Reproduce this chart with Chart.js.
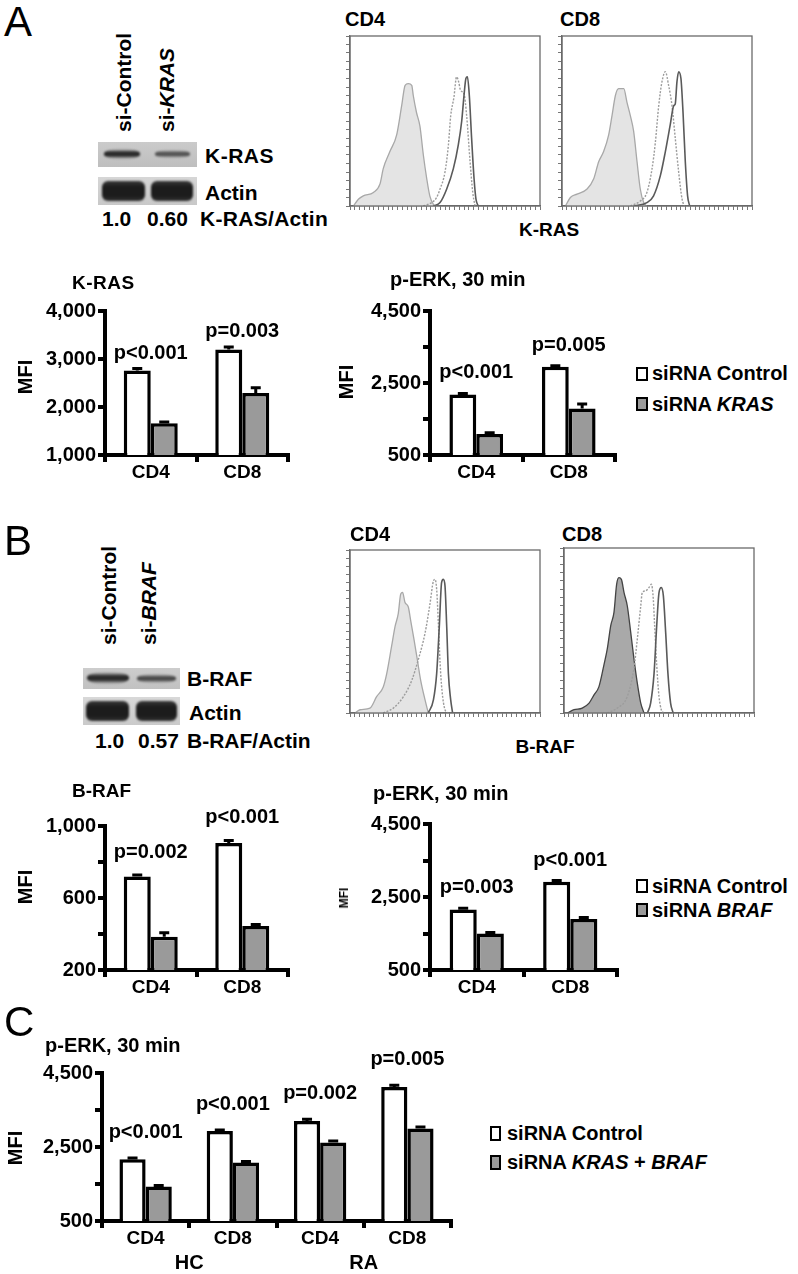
<!DOCTYPE html>
<html>
<head>
<meta charset="utf-8">
<script src="https://cdn.jsdelivr.net/npm/chart.js@4.4.0/dist/chart.umd.min.js"></script>
<style>
body { margin: 0; background: #fff; }
#page { position: relative; width: 798px; height: 1274px; overflow: hidden; font-family: "Liberation Sans", Arial, sans-serif; font-weight: bold; color: #000; }
canvas { position: absolute; }
.t { position: absolute; white-space: nowrap; line-height: 1; z-index: 2; }
.blot { position: absolute; overflow: hidden; }
.band { position: absolute; }
.thin { border-radius: 45%; filter: blur(1px); background: linear-gradient(to bottom, rgba(30,30,30,0), #2a2a2a 35%, #2a2a2a 65%, rgba(30,30,30,0)); }
.thick { border-radius: 6px; filter: blur(1.2px); background: linear-gradient(to bottom, #3a3a3a, #1c1c1c 30%, #1c1c1c 75%, #333); }
.lg { position: absolute; box-sizing: border-box; border: 2.5px solid #000; z-index: 2; }
</style>
</head>
<body>
<div id="page">
  <canvas id="hA4"></canvas>
  <canvas id="hA8"></canvas>
  <canvas id="hB4"></canvas>
  <canvas id="hB8"></canvas>
  <canvas id="barKras"></canvas>
  <canvas id="barPerkA"></canvas>
  <canvas id="barBraf"></canvas>
  <canvas id="barPerkB"></canvas>
  <canvas id="barPerkC"></canvas>

  <!-- western blots, panel A -->
  <div class="blot" style="left:98px;top:142px;width:99px;height:25px;background:linear-gradient(#cbcbcb,#bebebe);">
    <div class="band thin" style="left:6px;top:7px;width:36px;height:10px;"></div>
    <div class="band thin" style="left:57px;top:8px;width:35px;height:8px;opacity:.75;"></div>
  </div>
  <div class="blot" style="left:98px;top:177px;width:99px;height:28px;background:linear-gradient(#d6d6d6,#c8c8c8);">
    <div class="band thick" style="left:4px;top:4px;width:43px;height:20px;"></div>
    <div class="band thick" style="left:53px;top:4px;width:42px;height:20px;"></div>
  </div>
  <!-- western blots, panel B -->
  <div class="blot" style="left:83px;top:668px;width:97px;height:21px;background:linear-gradient(#cdcdcd,#c1c1c1);">
    <div class="band thin" style="left:4px;top:4px;width:42px;height:12px;"></div>
    <div class="band thin" style="left:54px;top:6px;width:39px;height:9px;opacity:.8;"></div>
  </div>
  <div class="blot" style="left:83px;top:697px;width:97px;height:28px;background:linear-gradient(#d8d8d8,#cacaca);">
    <div class="band thick" style="left:3px;top:4px;width:43px;height:20px;"></div>
    <div class="band thick" style="left:53px;top:4px;width:41px;height:20px;"></div>
  </div>

  <!-- legend boxes -->
  <div class="lg" style="left:636px;top:367px;width:12px;height:14px;background:#fff;"></div>
  <div class="lg" style="left:636px;top:397px;width:12px;height:14px;background:#9a9a9a;"></div>
  <div class="lg" style="left:636px;top:879px;width:12px;height:14px;background:#fff;"></div>
  <div class="lg" style="left:636px;top:903px;width:12px;height:14px;background:#9a9a9a;"></div>
  <div class="lg" style="left:490px;top:1126px;width:11px;height:15px;background:#fff;"></div>
  <div class="lg" style="left:490px;top:1155px;width:11px;height:15px;background:#9a9a9a;"></div>
</div>

<script>
// bar chart values (MFI)
const cats2 = ['CD4', 'CD8'];
const krasCtl = [2760, 3200];
const krasKd = [1660, 2290];
const krasCtlErr = [40, 50];
const krasKdErr = [30, 110];
const krasP = ['p<0.001', 'p=0.003'];

const perkACtl = [2180, 2950];
const perkAKd = [1080, 1790];
const perkACtlErr = [30, 30];
const perkAKdErr = [40, 130];
const perkAP = ['p<0.001', 'p=0.005'];

const brafCtl = [720, 905];
const brafKd = [385, 445];
const brafCtlErr = [8, 15];
const brafKdErr = [22, 8];
const brafP = ['p=0.002', 'p<0.001'];

const perkBCtl = [2160, 2920];
const perkBKd = [1500, 1900];
const perkBCtlErr = [30, 30];
const perkBKdErr = [30, 40];
const perkBP = ['p=0.003', 'p<0.001'];

const catsC = ['CD4', 'CD8', 'CD4', 'CD8'];
const groupsC = ['HC', 'RA'];
const perkCCtl = [2170, 2930, 3200, 4120];
const perkCKd = [1430, 2080, 2620, 3000];
const perkCCtlErr = [30, 30, 50, 50];
const perkCKdErr = [30, 30, 40, 40];
const perkCP = ['p<0.001', 'p<0.001', 'p=0.002', 'p=0.005'];

// y axis ticks
const ticksKras = [1000, 2000, 3000, 4000];
const ticksPerk = [500, 1500, 2500, 3500, 4500];
const labPerk = [500, 2500, 4500];
const ticksBraf = [200, 400, 600, 800, 1000];
const labBraf = [200, 600, 1000];

// flow histograms [channel, % of max]
const krasCd4Iso = [[1.8,0],[4.4,4],[7,6],[12.3,8],[15.8,13],[17.5,22],[21,32],[24.6,42],[27.2,59],[29,71],[30.7,72],[32.5,71],[33.3,65],[35,55],[36.8,47],[38.6,30],[40.4,16],[42,6],[43.9,1],[45.6,0]];
const krasCd4Kd = [[38.6,0],[43,2],[45.6,5],[47.4,10],[50,20],[51.8,36],[53,53],[54.7,64],[56.1,76],[57.2,73],[58.2,68],[60,66],[61.4,53],[63.2,26],[64.6,8],[65.8,0]];
const krasCd4Ctl = [[43.9,0],[47.4,2],[50.9,10],[54.4,22],[57,36],[58.8,50],[60,65],[61,75],[61.8,76],[62.8,65],[64,40],[65.3,16],[66.3,4],[67.5,0]];

const krasCd8Iso = [[1.8,0],[4.4,5],[7.9,7],[13.2,10],[16.7,16],[19.3,26],[21.9,32],[24.6,42],[26.3,53],[28.1,65],[29.8,69],[32.5,69],[34.2,61],[36,53],[37.7,44],[39.5,26],[41.2,10],[43,2],[44.7,0]];
const krasCd8Kd = [[36,0],[41.2,3],[44.7,8],[47.4,22],[49.1,37],[50.9,59],[52.6,73],[54.4,79],[56.1,71],[57.9,59],[59.6,40],[61.4,20],[63.2,4],[64.4,0]];
const krasCd8Ctl = [[37.7,0],[44.7,2],[48.2,6],[51.8,18],[54.4,32],[57,48],[58.8,59],[59.6,60],[60.5,73],[61.4,79],[62.6,75],[63.7,55],[64.9,26],[66.1,6],[67.2,0]];

const brafCd4Iso = [[2.6,0],[5.3,2],[10.5,3],[14,10],[17.5,16],[19.3,24],[21.9,41],[23.7,53],[25.4,61],[26.7,73],[27.7,74],[28.9,68],[30.7,65],[31.9,57],[33.7,45],[35.4,33],[37.2,20],[39.5,8],[41.2,0]];
const brafCd4Kd = [[17.5,0],[22.8,3],[28.1,10],[32.5,20],[36,33],[39.5,49],[42.1,67],[43.9,81],[44.7,82],[45.6,76],[46.5,55],[47.4,31],[48.4,14],[50,2],[51.8,0]];
const brafCd4Ctl = [[41.2,0],[43.9,8],[45.6,24],[47,53],[48.2,80],[49.1,82],[50,78],[50.9,53],[51.8,24],[53,8],[54,0]];

const brafCd8Iso = [[1.8,0],[5.3,2],[9.6,3],[13.2,6],[15.8,11],[18.4,16],[21,29],[22.8,39],[24.6,53],[26.3,61],[27.7,78],[28.9,82],[30.2,81],[31.6,73],[33.3,65],[35.1,49],[36.8,33],[38.6,18],[40.4,6],[42.1,0]];
const brafCd8Kd = [[22.8,0],[28.1,3],[33.3,10],[36.8,27],[38.6,45],[40.4,65],[41.2,73],[43,74],[44.7,76],[46,78],[47,69],[47.7,53],[48.8,29],[50,10],[51.2,2],[52.6,0]];
const brafCd8Ctl = [[43.9,0],[45.6,6],[47.4,24],[48.8,53],[50,73],[51.2,76],[52.3,71],[53.5,49],[54.7,24],[56.1,6],[57.5,0]];

Chart.defaults.font.family = '"Liberation Sans", Arial, sans-serif';
Chart.defaults.font.weight = 'bold';
Chart.defaults.color = '#000';

const FONT = '"Liberation Sans", Arial, sans-serif';
const grey = '#9a9a9a';
const page = document.getElementById('page');

function place(cv, left, top, w, h) {
  cv.width = w; cv.height = h;
  cv.style.left = left + 'px'; cv.style.top = top + 'px';
  cv.style.width = w + 'px'; cv.style.height = h + 'px';
}

// text: mode l = left edge x, c = centred, r = rotated centre, u = rotated with bottom at y
function txt(html, x, y, size, mode, extra) {
  const d = document.createElement('div');
  d.className = 't';
  d.innerHTML = html;
  d.style.fontSize = size + 'px';
  d.style.left = x + 'px';
  d.style.top = y + 'px';
  if (mode === 'c') d.style.transform = 'translate(-50%,-50%)';
  else if (mode === 'r') d.style.transform = 'translate(-50%,-50%) rotate(-90deg)';
  else if (mode === 'u') { d.style.transformOrigin = '0 0'; d.style.transform = 'rotate(-90deg) translateY(-50%)'; }
  else d.style.transform = 'translateY(-50%)';
  if (extra) Object.assign(d.style, extra);
  page.appendChild(d);
}

function makeBar(id, area, cats, ctl, kd, ctlErr, kdErr, pv, yo) {
  const yW = 80, padTop = 50, padRight = 14, xH = 30, x2H = yo.groups ? 32 : 0;
  const left = area[0] - yW, top = area[1] - padTop;
  const w = area[2] + padRight - left, h = area[3] + xH + x2H - top;
  const cv = document.getElementById(id);
  place(cv, left, top, w, h);

  const deco = {
    id: 'deco',
    afterDatasetsDraw(chart) {
      const ctx = chart.ctx, ys = chart.scales.y, xs = chart.scales.x;
      ctx.save();
      ctx.strokeStyle = '#000';
      ctx.lineWidth = 3;
      [ctlErr, kdErr].forEach((errs, di) => {
        const vals = chart.data.datasets[di].data;
        chart.getDatasetMeta(di).data.forEach((bar, j) => {
          const yt = ys.getPixelForValue(vals[j] + errs[j]);
          ctx.beginPath();
          ctx.moveTo(bar.x, bar.y);
          ctx.lineTo(bar.x, yt);
          ctx.moveTo(bar.x - 5, yt);
          ctx.lineTo(bar.x + 5, yt);
          ctx.stroke();
        });
      });
      ctx.fillStyle = '#000';
      ctx.font = 'bold 20px ' + FONT;
      ctx.textAlign = 'center';
      ctx.textBaseline = 'alphabetic';
      pv.forEach((t, j) => {
        const yt = ys.getPixelForValue(ctl[j] + ctlErr[j]);
        ctx.fillText(t, xs.getPixelForValue(j), yt - yo.gap);
      });
      ctx.restore();
    }
  };

  const scales = {
    x: {
      type: 'category',
      offset: true,
      grid: { offset: true, drawOnChartArea: false, drawTicks: true, tickLength: 7, color: '#000', lineWidth: 4 },
      border: { display: true, color: '#000', width: 4 },
      ticks: { font: { size: 19, weight: 'bold', lineHeight: 1 }, color: '#000', padding: 1, maxRotation: 0, autoSkip: false },
      afterFit: s => { s.height = xH; }
    },
    y: {
      min: yo.ticks[0],
      max: yo.ticks[yo.ticks.length - 1],
      afterBuildTicks: s => { s.ticks = yo.ticks.map(v => ({ value: v })); },
      ticks: {
        font: { size: 20, weight: 'bold' }, color: '#000', padding: 2,
        callback: v => yo.lab.includes(v) ? v.toLocaleString('en-US') : ''
      },
      grid: { drawOnChartArea: false, drawTicks: true, tickLength: 7, color: '#000', lineWidth: 4 },
      border: { display: true, color: '#000', width: 4 },
      afterFit: s => { s.width = yW; }
    }
  };
  if (yo.groups) {
    scales.x2 = {
      type: 'category',
      labels: yo.groups,
      position: 'bottom',
      weight: 1,
      offset: true,
      min: 0, max: yo.groups.length - 1,
      grid: { display: false, drawTicks: false },
      border: { display: false },
      ticks: { font: { size: 20, weight: 'bold', lineHeight: 1 }, color: '#000', padding: 2, maxRotation: 0 },
      afterFit: s => { s.height = x2H; }
    };
  }

  new Chart(cv, {
    type: 'bar',
    data: {
      labels: cats,
      datasets: [
        { label: 'siRNA Control', data: ctl, backgroundColor: '#fff', borderColor: '#000', borderWidth: 3.5, categoryPercentage: yo.cp, barPercentage: 1, xAxisID: 'x', yAxisID: 'y' },
        { label: 'siRNA', data: kd, backgroundColor: grey, borderColor: '#000', borderWidth: 3.5, categoryPercentage: yo.cp, barPercentage: 1, xAxisID: 'x', yAxisID: 'y' }
      ]
    },
    options: {
      responsive: false,
      animation: false,
      layout: { padding: { top: padTop, right: padRight, left: 0, bottom: 0 } },
      plugins: { legend: { display: false }, tooltip: { enabled: false } },
      scales: scales
    },
    plugins: [deco]
  });
}

const frame = {
  id: 'frame',
  afterDraw(chart) {
    const a = chart.chartArea, ctx = chart.ctx;
    ctx.save();
    ctx.strokeStyle = '#6a6a6a';
    ctx.lineWidth = 1.3;
    ctx.strokeRect(a.left, a.top, a.right - a.left, a.bottom - a.top);
    ctx.restore();
  }
};

function makeHist(id, area, iso, kd, ctl, isoFill, isoLine) {
  const left = area[0] - 6, top = area[1] - 2;
  const w = area[2] + 2 - left, h = area[3] + 6 - top;
  const cv = document.getElementById(id);
  place(cv, left, top, w, h);
  const pts = a => a.map(p => ({ x: p[0], y: p[1] }));
  new Chart(cv, {
    type: 'line',
    data: {
      datasets: [
        { data: pts(ctl), borderColor: '#5a5a5a', borderWidth: 1.6, fill: false, order: 1 },
        { data: pts(kd), borderColor: '#9c9c9c', borderWidth: 1.4, borderDash: [2, 1.5], fill: false, order: 2 },
        { data: pts(iso), borderColor: isoLine, backgroundColor: isoFill, borderWidth: 1.3, fill: 'origin', order: 3 }
      ]
    },
    options: {
      responsive: false,
      animation: false,
      layout: { padding: { top: 2, right: 2, left: 0, bottom: 0 } },
      plugins: { legend: { display: false }, tooltip: { enabled: false } },
      elements: { point: { radius: 0 }, line: { cubicInterpolationMode: 'monotone' } },
      scales: {
        x: {
          type: 'linear', min: 0, max: 100,
          ticks: { display: false, stepSize: 2.5, autoSkip: false },
          grid: { drawOnChartArea: false, tickLength: 4, color: '#777', lineWidth: 1 },
          border: { color: '#6a6a6a', width: 1.3 },
          afterFit: s => { s.height = 6; }
        },
        y: {
          min: 0, max: 100,
          ticks: { display: false, stepSize: 5, autoSkip: false },
          grid: { drawOnChartArea: false, tickLength: 4, color: '#777', lineWidth: 1 },
          border: { color: '#6a6a6a', width: 1.3 },
          afterFit: s => { s.width = 6; }
        }
      }
    },
    plugins: [frame]
  });
}

makeHist('hA4', [350, 36, 540, 206], krasCd4Iso, krasCd4Kd, krasCd4Ctl, '#e4e4e4', '#a8a8a8');
makeHist('hA8', [562, 36, 752, 206], krasCd8Iso, krasCd8Kd, krasCd8Ctl, '#e4e4e4', '#a8a8a8');
makeHist('hB4', [350, 550, 540, 713], brafCd4Iso, brafCd4Kd, brafCd4Ctl, '#e4e4e4', '#a8a8a8');
makeHist('hB8', [564, 548, 754, 713], brafCd8Iso, brafCd8Kd, brafCd8Ctl, '#a9a9a9', '#444');

makeBar('barKras', [105, 311, 288, 455], cats2, krasCtl, krasKd, krasCtlErr, krasKdErr, krasP, { ticks: ticksKras, lab: ticksKras, gap: 10, cp: 0.59 });
makeBar('barPerkA', [430, 311, 615, 455], cats2, perkACtl, perkAKd, perkACtlErr, perkAKdErr, perkAP, { ticks: ticksPerk, lab: labPerk, gap: 15, cp: 0.58 });
makeBar('barBraf', [105, 826, 288, 970], cats2, brafCtl, brafKd, brafCtlErr, brafKdErr, brafP, { ticks: ticksBraf, lab: labBraf, gap: 17, cp: 0.59 });
makeBar('barPerkB', [430, 824, 617, 970], cats2, perkBCtl, perkBKd, perkBCtlErr, perkBKdErr, perkBP, { ticks: ticksPerk, lab: labPerk, gap: 15, cp: 0.58 });
makeBar('barPerkC', [102, 1073, 451, 1221], catsC, perkCCtl, perkCKd, perkCCtlErr, perkCKdErr, perkCP, { ticks: ticksPerk, lab: labPerk, gap: 20, cp: 0.6, groups: groupsC });

// panel A text
txt('A', 4, 22, 42, 'l', { fontWeight: 'normal' });
txt('si-Control', 123, 132, 21, 'u');
txt('si-<i>KRAS</i>', 166, 132, 21, 'u');
txt('K-RAS', 205, 155, 21, 'l', { letterSpacing: '0.5px' });
txt('Actin', 205, 192, 21, 'l');
txt('1.0', 102, 218, 21, 'l');
txt('0.60', 147, 218, 21, 'l');
txt('K-RAS/Actin', 200, 218, 21, 'l', { letterSpacing: '0.3px' });
txt('CD4', 345, 19, 20, 'l');
txt('CD8', 560, 19, 20, 'l');
txt('K-RAS', 549, 229, 19, 'c');
txt('K-RAS', 72, 282, 19, 'l', { letterSpacing: '0.5px' });
txt('p-ERK, 30 min', 390, 279, 20, 'l');
txt('MFI', 25, 377, 20, 'r');
txt('MFI', 346, 382, 20, 'r');
txt('siRNA Control', 652, 373, 20, 'l');
txt('siRNA <i>KRAS</i>', 652, 404, 20, 'l');

// panel B text
txt('B', 4, 541, 42, 'l', { fontWeight: 'normal' });
txt('si-Control', 108, 645, 21, 'u');
txt('si-<i>BRAF</i>', 148, 645, 21, 'u');
txt('B-RAF', 187, 678, 21, 'l');
txt('Actin', 189, 712, 21, 'l');
txt('1.0', 95, 740, 21, 'l');
txt('0.57', 138, 740, 21, 'l');
txt('B-RAF/Actin', 187, 740, 21, 'l');
txt('CD4', 350, 534, 20, 'l');
txt('CD8', 562, 534, 20, 'l');
txt('B-RAF', 545, 746, 19, 'c');
txt('B-RAF', 72, 790, 19, 'l');
txt('p-ERK, 30 min', 373, 793, 20, 'l');
txt('MFI', 25, 887, 20, 'r');
txt('MFI', 344, 898, 12, 'r');
txt('siRNA Control', 652, 886, 20, 'l');
txt('siRNA <i>BRAF</i>', 652, 910, 20, 'l');

// panel C text
txt('C', 4, 1022, 42, 'l', { fontWeight: 'normal' });
txt('p-ERK, 30 min', 45, 1045, 20, 'l');
txt('MFI', 15, 1148, 20, 'r');
txt('siRNA Control', 507, 1133, 20, 'l');
txt('siRNA <i>KRAS</i> + <i>BRAF</i>', 507, 1162, 20, 'l');
</script>
</body>
</html>
